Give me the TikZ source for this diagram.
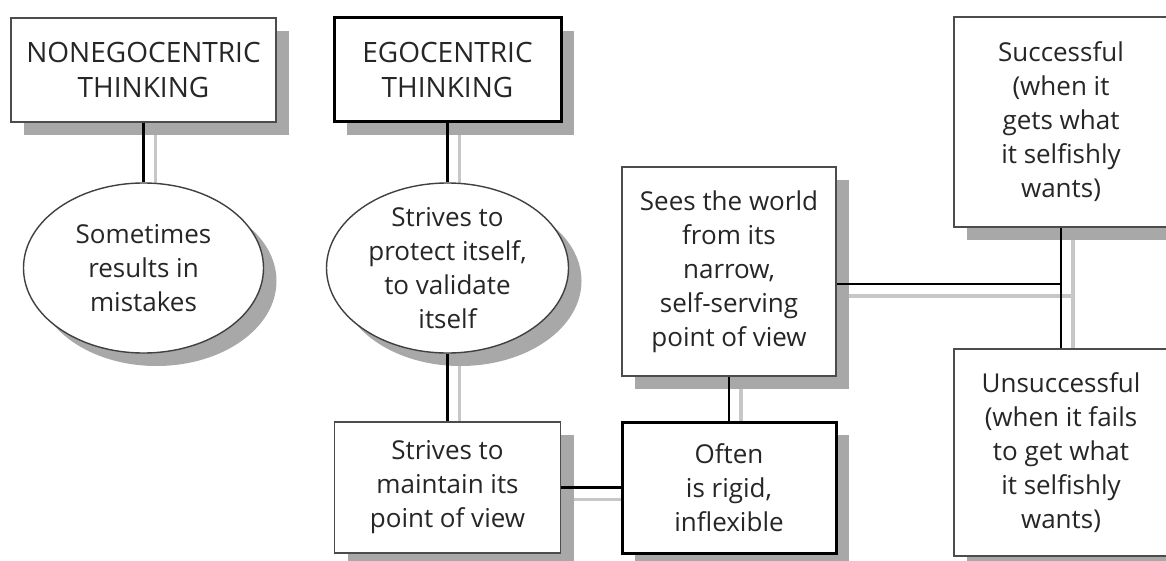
\documentclass[tikz,border=0pt]{standalone}
\usepackage{fontspec}
\setsansfont{Open Sans}
\usepackage{tikz}
\usetikzlibrary{shapes.geometric,shadows,backgrounds}
\definecolor{shadegray}{gray}{0.66}
\definecolor{linkgray}{gray}{0.78}
\tikzset{
	basenode/.style = {align=center, inner sep=0pt, text centered, fill=white,
		text=black!85, font=\sffamily\fontsize{13}{17}\selectfont,
		drop shadow={shadow xshift=6.5pt, shadow yshift=-6.5pt,
			fill=shadegray, opacity=1}},
	box_thin/.style = {basenode, rectangle, draw=black!70, line width=0.8pt},
	box_bold/.style = {basenode, rectangle, draw=black, line width=1.5pt},
	title_txt/.style = {font=\sffamily\fontsize{14}{17.5}\selectfont},
	oval/.style = {basenode, ellipse, draw=black!75, line width=0.7pt,
		inner ysep=-12pt},
	link/.style = {draw=black, line width=1.35pt},
	link_shade/.style = {draw=linkgray, line width=1.7pt}
}
\begin{document}
\begin{tikzpicture}[x=0.5pt, y=-0.5pt]
\useasboundingbox (0,0) rectangle (1166,561);
\node [box_thin, title_txt, minimum width=132.5pt, minimum height=52pt]
	(nonego) at (143.5,70) {NONEGOCENTRIC\\THINKING};
\node [box_bold, title_txt, minimum width=113.5pt, minimum height=52pt]
	(ego) at (447.5,70) {EGOCENTRIC\\THINKING};
\node [oval, minimum width=120pt, minimum height=85pt]
	(ellnon) at (143.5,268) {Sometimes\\results in\\mistakes};
\node [oval, minimum width=121pt, minimum height=85pt]
	(ellego) at (447.5,268) {Strives to\\protect itself,\\to validate\\itself};
\node [box_thin, minimum width=113pt, minimum height=65.5pt]
	(keep) at (447.5,487.5) {Strives to\\maintain its\\point of view};
\node [box_bold, minimum width=107pt, minimum height=65.5pt]
	(rigid) at (729,487.5) {Often\\is rigid,\\inflexible};
\node [box_thin, minimum width=107pt, minimum height=104.5pt]
	(sees) at (729,271.5) {Sees the world\\from its\\narrow,\\self-serving\\point of view};
\node [box_thin, minimum width=107pt, minimum height=105pt]
	(succ) at (1061,122) {Successful\\(when it\\gets what\\it selfishly\\wants)};
\node [box_thin, minimum width=107pt, minimum height=103.5pt]
	(unsucc) at (1061,452.5) {Unsuccessful\\(when it fails\\to get what\\it selfishly\\wants)};
\coordinate (jn) at (1061,284);

% connectors
\foreach \a/\b in {nonego.south/ellnon.north, ego.south/ellego.north,
	ellego.south/keep.north, keep.east/rigid.west, sees.south/rigid.north,
	succ.south/unsucc.north}
	\draw [link] (\a) -- (\b);
\draw [link] (jn -| sees.east) -- (jn);

% their shadows
\begin{pgfonlayer}{background}
\foreach \a/\b in {nonego.south/ellnon.north, ego.south/ellego.north,
	ellego.south/keep.north, keep.east/rigid.west, sees.south/rigid.north,
	succ.south/unsucc.north}
	\draw [link_shade] ([shift={(12,12)}]\a) -- ([shift={(12,12)}]\b);
\draw [link_shade] ([shift={(12,12)}]jn -| sees.east)
	-- ([shift={(12,12)}]jn);
\end{pgfonlayer}
\end{tikzpicture}
\end{document}
